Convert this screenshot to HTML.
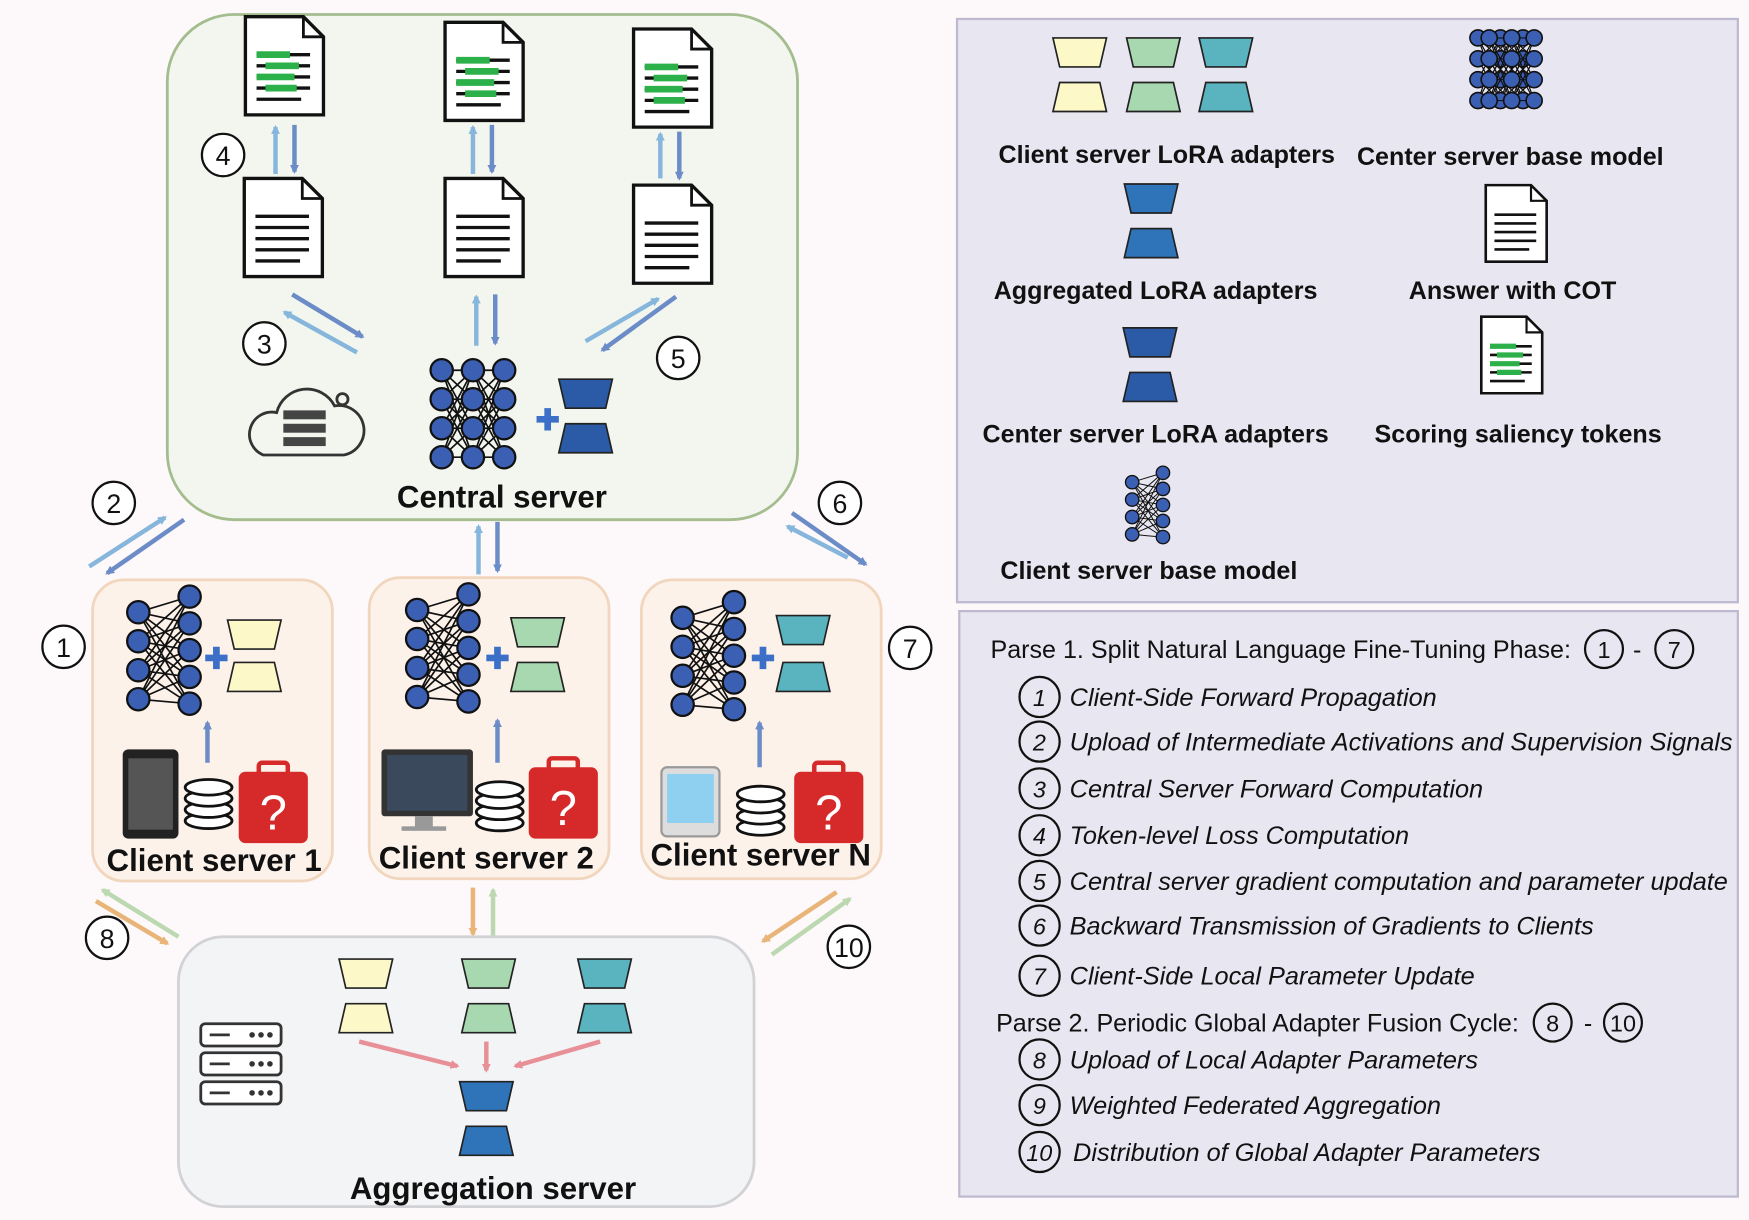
<!DOCTYPE html>
<html><head><meta charset="utf-8"><style>
html,body{margin:0;padding:0;background:#fff}
svg{display:block}
text{font-family:"Liberation Sans",sans-serif}
</style></head><body>
<svg width="1749" height="1220" viewBox="0 0 1568 1094" preserveAspectRatio="none" xmlns="http://www.w3.org/2000/svg">
<defs>
<marker id="ab" markerWidth="8" markerHeight="8" refX="6" refY="4" orient="auto" markerUnits="userSpaceOnUse"><path d="M0,0 L8,4 L0,8z" fill="#6c8cc8"/></marker>
<marker id="al" markerWidth="8" markerHeight="8" refX="6" refY="4" orient="auto" markerUnits="userSpaceOnUse"><path d="M0,0 L8,4 L0,8z" fill="#86b6dc"/></marker>
<marker id="ao" markerWidth="8" markerHeight="8" refX="6" refY="4" orient="auto" markerUnits="userSpaceOnUse"><path d="M0,0 L8,4 L0,8z" fill="#e8b478"/></marker>
<marker id="ag" markerWidth="8" markerHeight="8" refX="6" refY="4" orient="auto" markerUnits="userSpaceOnUse"><path d="M0,0 L8,4 L0,8z" fill="#bcd8b0"/></marker>
<marker id="ar" markerWidth="8" markerHeight="8" refX="6" refY="4" orient="auto" markerUnits="userSpaceOnUse"><path d="M0,0 L8,4 L0,8z" fill="#e89098"/></marker>
<g id="doc"><path d="M0,0 H52 L70,18 V88 H0 Z" fill="#fff" stroke="#111" stroke-width="3"/><path d="M52,0 V18 H70" fill="none" stroke="#111" stroke-width="2.5"/>
<path d="M10,34H58M10,44H58M10,54H58M10,64H58M10,74H50" stroke="#111" stroke-width="3"/></g>
<g id="gdoc"><use href="#doc"/><path d="M10,34H40M18,44H48M10,54H44M18,64H46" stroke="#2cb04a" stroke-width="6"/></g>
<g id="nn" stroke="#111" stroke-width="1.5">
<path d="M0,0L28,0M0,0L28,26M0,0L28,52M0,0L28,78M0,26L28,0M0,26L28,26M0,26L28,52M0,26L28,78M0,52L28,0M0,52L28,26M0,52L28,52M0,52L28,78M0,78L28,0M0,78L28,26M0,78L28,52M0,78L28,78"/>
<path d="M28,0L56,0M28,0L56,26M28,0L56,52M28,0L56,78M28,26L56,0M28,26L56,26M28,26L56,52M28,26L56,78M28,52L56,0M28,52L56,26M28,52L56,52M28,52L56,78M28,78L56,0M28,78L56,26M28,78L56,52M28,78L56,78"/>
<g fill="#3b5fb2" stroke-width="2"><circle cx="0" cy="0" r="10"/><circle cx="0" cy="26" r="10"/><circle cx="0" cy="52" r="10"/><circle cx="0" cy="78" r="10"/><circle cx="28" cy="0" r="10"/><circle cx="28" cy="26" r="10"/><circle cx="28" cy="52" r="10"/><circle cx="28" cy="78" r="10"/><circle cx="56" cy="0" r="10"/><circle cx="56" cy="26" r="10"/><circle cx="56" cy="52" r="10"/><circle cx="56" cy="78" r="10"/></g></g>
<g id="cnn" stroke="#111" stroke-width="1.5">
<path d="M0,14L46,0M0,14L46,24M0,14L46,48M0,14L46,72M0,14L46,96M0,40L46,0M0,40L46,24M0,40L46,48M0,40L46,72M0,40L46,96M0,66L46,0M0,66L46,24M0,66L46,48M0,66L46,72M0,66L46,96M0,92L46,0M0,92L46,24M0,92L46,48M0,92L46,72M0,92L46,96"/>
<g fill="#3b5fb2" stroke-width="2"><circle cx="0" cy="14" r="10"/><circle cx="0" cy="40" r="10"/><circle cx="0" cy="66" r="10"/><circle cx="0" cy="92" r="10"/><circle cx="46" cy="0" r="10"/><circle cx="46" cy="24" r="10"/><circle cx="46" cy="48" r="10"/><circle cx="46" cy="72" r="10"/><circle cx="46" cy="96" r="10"/></g></g>
<path id="adT" d="M-24,0H24L18,26H-18Z" stroke="#222" stroke-width="1.5"/>
<path id="adB" d="M-18,0H18L24,26H-24Z" stroke="#222" stroke-width="1.5"/>
<g id="plus"><path d="M-10,0H10M0,-10V10" stroke="#3b6fc8" stroke-width="6"/></g>
<g id="db" fill="#fff" stroke="#111" stroke-width="2.5"><ellipse cx="0" cy="30" rx="21" ry="7"/><ellipse cx="0" cy="20" rx="21" ry="7"/><ellipse cx="0" cy="10" rx="21" ry="7"/><ellipse cx="0" cy="0" rx="21" ry="7"/></g>
<g id="q"><rect x="0" y="8" width="62" height="64" rx="6" fill="#d62a2a"/><rect x="18" y="0" width="26" height="12" rx="3" fill="none" stroke="#d62a2a" stroke-width="4"/><text x="31" y="60" font-size="44" fill="#fff" text-anchor="middle">?</text></g>
</defs>
<rect width="1568" height="1094" fill="#fdf8f9"/>
<rect x="150" y="13" width="565" height="453" rx="60" fill="#f3f6ee" stroke="#a3bd8e" stroke-width="2.5"/>
<use href="#gdoc" x="220" y="15"/><use href="#gdoc" x="399" y="20"/><use href="#gdoc" x="568" y="26"/>
<use href="#doc" x="219" y="160"/><use href="#doc" x="399" y="160"/><use href="#doc" x="568" y="166"/>
<g stroke-width="4">
<line x1="247" y1="156" x2="247" y2="114" stroke="#86b6dc" marker-end="url(#al)"/><line x1="264" y1="112" x2="264" y2="154" stroke="#6c8cc8" marker-end="url(#ab)"/>
<line x1="424" y1="156" x2="424" y2="114" stroke="#86b6dc" marker-end="url(#al)"/><line x1="441" y1="112" x2="441" y2="154" stroke="#6c8cc8" marker-end="url(#ab)"/>
<line x1="592" y1="160" x2="592" y2="120" stroke="#86b6dc" marker-end="url(#al)"/><line x1="609" y1="118" x2="609" y2="160" stroke="#6c8cc8" marker-end="url(#ab)"/>
<line x1="320" y1="316" x2="255" y2="280" stroke="#86b6dc" marker-end="url(#al)"/><line x1="262" y1="264" x2="325" y2="302" stroke="#6c8cc8" marker-end="url(#ab)"/>
<line x1="427" y1="310" x2="427" y2="266" stroke="#86b6dc" marker-end="url(#al)"/><line x1="444" y1="264" x2="444" y2="308" stroke="#6c8cc8" marker-end="url(#ab)"/>
<line x1="525" y1="306" x2="590" y2="268" stroke="#86b6dc" marker-end="url(#al)"/><line x1="606" y1="266" x2="540" y2="314" stroke="#6c8cc8" marker-end="url(#ab)"/>
</g>
<use href="#nn" x="396" y="332"/>
<use href="#plus" x="491" y="376"/>
<use href="#adT" x="525" y="340" fill="#2b5aa6"/><use href="#adB" x="525" y="380" fill="#2b5aa6"/>
<g fill="none" stroke="#333" stroke-width="2.5"><path d="M236,408 a20,20 0 0 1 12,-38 a28,28 0 0 1 52,-6 a22,22 0 0 1 8,44 Z"/><circle cx="307" cy="358" r="5"/></g>
<g fill="#444"><rect x="254" y="368" width="38" height="8"/><rect x="254" y="380" width="38" height="8"/><rect x="254" y="392" width="38" height="8"/></g>
<text x="450" y="455" font-size="28" font-weight="bold" text-anchor="middle" fill="#111">Central server</text>
<g fill="#fff" stroke="#111" stroke-width="2"><circle cx="200" cy="139" r="19"/><circle cx="237" cy="308" r="19"/><circle cx="608" cy="321" r="19"/><circle cx="102" cy="451" r="19"/><circle cx="753" cy="451" r="19"/><circle cx="57" cy="580" r="19"/><circle cx="816" cy="581" r="19"/><circle cx="96" cy="841" r="19"/><circle cx="337" cy="1004" r="19"/><circle cx="761" cy="849" r="19"/></g>
<g font-size="24" text-anchor="middle" fill="#111"><text x="200" y="148">4</text><text x="237" y="317">3</text><text x="608" y="330">5</text><text x="102" y="460">2</text><text x="753" y="460">6</text><text x="57" y="589">1</text><text x="816" y="590">7</text><text x="96" y="850">8</text><text x="337" y="1013">9</text><text x="761" y="858">10</text></g>
<g stroke-width="4">
<line x1="80" y1="508" x2="148" y2="464" stroke="#86b6dc" marker-end="url(#al)"/><line x1="165" y1="466" x2="96" y2="514" stroke="#6c8cc8" marker-end="url(#ab)"/>
<line x1="429" y1="515" x2="429" y2="472" stroke="#86b6dc" marker-end="url(#al)"/><line x1="446" y1="468" x2="446" y2="512" stroke="#6c8cc8" marker-end="url(#ab)"/>
<line x1="760" y1="500" x2="706" y2="472" stroke="#86b6dc" marker-end="url(#al)"/><line x1="710" y1="460" x2="776" y2="506" stroke="#6c8cc8" marker-end="url(#ab)"/>
<line x1="160" y1="840" x2="92" y2="798" stroke="#bcd8b0" marker-end="url(#ag)"/><line x1="86" y1="808" x2="150" y2="846" stroke="#e8b478" marker-end="url(#ao)"/>
<line x1="424" y1="796" x2="424" y2="838" stroke="#e8b478" marker-end="url(#ao)"/><line x1="442" y1="840" x2="442" y2="798" stroke="#bcd8b0" marker-end="url(#ag)"/>
<line x1="750" y1="800" x2="684" y2="844" stroke="#e8b478" marker-end="url(#ao)"/><line x1="692" y1="856" x2="762" y2="806" stroke="#bcd8b0" marker-end="url(#ag)"/>
</g>
<g fill="#fdf2ea" stroke="#f1d6bd" stroke-width="2.5"><rect x="83" y="520" width="215" height="270" rx="28"/><rect x="331" y="518" width="215" height="270" rx="28"/><rect x="575" y="520" width="215" height="268" rx="28"/></g>
<use href="#cnn" x="124" y="535"/><use href="#plus" x="194" y="590"/><use href="#adT" x="228" y="556" fill="#fdf8c8"/><use href="#adB" x="228" y="594" fill="#fdf8c8"/>
<use href="#cnn" x="374" y="533"/><use href="#plus" x="446" y="590"/><use href="#adT" x="482" y="554" fill="#a8d8b0"/><use href="#adB" x="482" y="594" fill="#a8d8b0"/>
<use href="#cnn" x="612" y="540"/><use href="#plus" x="684" y="590"/><use href="#adT" x="720" y="552" fill="#5ab4c0"/><use href="#adB" x="720" y="594" fill="#5ab4c0"/>
<g stroke="#6c8cc8" stroke-width="4"><line x1="186" y1="684" x2="186" y2="648" marker-end="url(#ab)"/><line x1="446" y1="684" x2="446" y2="646" marker-end="url(#ab)"/><line x1="681" y1="688" x2="681" y2="648" marker-end="url(#ab)"/></g>
<rect x="110" y="672" width="50" height="80" rx="5" fill="#222"/><rect x="115" y="680" width="40" height="64" fill="#555"/>
<use href="#db" x="187" y="706"/><use href="#q" x="214" y="684"/>
<rect x="342" y="672" width="82" height="60" rx="3" fill="#333"/><rect x="347" y="677" width="72" height="50" fill="#3a4a5c"/><rect x="372" y="732" width="16" height="10" fill="#999"/><rect x="360" y="741" width="40" height="4" fill="#999"/>
<use href="#db" x="448" y="708"/><use href="#q" x="474" y="680"/>
<rect x="593" y="688" width="52" height="62" rx="5" fill="#ddd" stroke="#999" stroke-width="2"/><rect x="598" y="694" width="42" height="44" fill="#8fd0f0"/>
<use href="#db" x="682" y="712"/><use href="#q" x="712" y="684"/>
<g font-size="28" font-weight="bold" fill="#111" text-anchor="middle"><text x="192" y="781">Client server 1</text><text x="436" y="779">Client server 2</text><text x="682" y="776">Client server N</text></g>
<rect x="160" y="840" width="516" height="242" rx="40" fill="#f3f4f6" stroke="#d2d2d6" stroke-width="2.5"/>
<use href="#adT" x="328" y="860" fill="#fdf8c8"/><use href="#adB" x="328" y="900" fill="#fdf8c8"/>
<use href="#adT" x="438" y="860" fill="#a8d8b0"/><use href="#adB" x="438" y="900" fill="#a8d8b0"/>
<use href="#adT" x="542" y="860" fill="#5ab4c0"/><use href="#adB" x="542" y="900" fill="#5ab4c0"/>
<g stroke="#e89098" stroke-width="4"><line x1="322" y1="934" x2="410" y2="956" marker-end="url(#ar)"/><line x1="436" y1="934" x2="436" y2="960" marker-end="url(#ar)"/><line x1="538" y1="934" x2="462" y2="956" marker-end="url(#ar)"/></g>
<use href="#adT" x="436" y="970" fill="#2f74b8"/><use href="#adB" x="436" y="1010" fill="#2f74b8"/>
<g fill="#fff" stroke="#333" stroke-width="2.5"><rect x="180" y="918" width="72" height="20" rx="4"/><rect x="180" y="944" width="72" height="20" rx="4"/><rect x="180" y="970" width="72" height="20" rx="4"/></g>
<g stroke="#333" stroke-width="2.5"><path d="M188,928H206M188,954H206M188,980H206"/></g>
<g fill="#333"><circle cx="226" cy="928" r="2.5"/><circle cx="234" cy="928" r="2.5"/><circle cx="242" cy="928" r="2.5"/><circle cx="226" cy="954" r="2.5"/><circle cx="234" cy="954" r="2.5"/><circle cx="242" cy="954" r="2.5"/><circle cx="226" cy="980" r="2.5"/><circle cx="234" cy="980" r="2.5"/><circle cx="242" cy="980" r="2.5"/></g>
<text x="442" y="1075" font-size="28" font-weight="bold" text-anchor="middle" fill="#111">Aggregation server</text>
<rect x="858" y="17" width="700" height="523" fill="#e8e6f1" stroke="#bdb9d0" stroke-width="2"/>
<use href="#adT" x="968" y="34" fill="#fdf8c8"/><use href="#adB" x="968" y="74" fill="#fdf8c8"/>
<use href="#adT" x="1034" y="34" fill="#a8d8b0"/><use href="#adB" x="1034" y="74" fill="#a8d8b0"/>
<use href="#adT" x="1099" y="34" fill="#5ab4c0"/><use href="#adB" x="1099" y="74" fill="#5ab4c0"/>
<g transform="translate(1325,34) scale(0.72)"><use href="#nn"/><use href="#nn" x="14"/></g>
<use href="#adT" x="1032" y="165" fill="#2f74b8"/><use href="#adB" x="1032" y="205" fill="#2f74b8"/>
<g transform="translate(1332,166) scale(0.78)"><use href="#doc"/></g>
<use href="#adT" x="1031" y="294" fill="#2b5aa6"/><use href="#adB" x="1031" y="334" fill="#2b5aa6"/>
<g transform="translate(1328,284) scale(0.78)"><use href="#gdoc"/></g>
<g transform="translate(1015,424) scale(0.6)"><use href="#cnn"/></g>
<g font-size="22.5" font-weight="bold" fill="#111" text-anchor="middle">
<text x="1046" y="146">Client server LoRA adapters</text><text x="1354" y="148">Center server base model</text>
<text x="1036" y="268">Aggregated  LoRA adapters</text><text x="1356" y="268">Answer with COT</text>
<text x="1036" y="397">Center server LoRA adapters</text><text x="1361" y="397">Scoring saliency tokens</text>
<text x="1030" y="519">Client server base model</text></g>
<rect x="860" y="548" width="698" height="525" fill="#e8e6f1" stroke="#bdb9d0" stroke-width="2"/>
<g font-size="22.5" fill="#111">
<text x="888" y="590">Parse 1. Split Natural Language Fine-Tuning Phase:</text>
<text x="1464" y="590">-</text>
<text x="893" y="925">Parse 2. Periodic Global Adapter Fusion Cycle:</text>
<text x="1420" y="925">-</text>
</g>
<g fill="none" stroke="#111" stroke-width="2"><circle cx="1438" cy="582" r="17"/><circle cx="1501" cy="582" r="17"/><circle cx="1392" cy="917" r="17"/><circle cx="1455" cy="917" r="17"/>
<circle cx="932" cy="625" r="18"/><circle cx="932" cy="665" r="18"/><circle cx="932" cy="707" r="18"/><circle cx="932" cy="749" r="18"/><circle cx="932" cy="790" r="18"/><circle cx="932" cy="830" r="18"/><circle cx="932" cy="875" r="18"/><circle cx="932" cy="950" r="18"/><circle cx="932" cy="991" r="18"/><circle cx="932" cy="1033" r="18"/></g>
<g font-size="21" fill="#111" text-anchor="middle"><text x="1438" y="590">1</text><text x="1501" y="590">7</text><text x="1392" y="925">8</text><text x="1455" y="925">10</text></g>
<g font-size="21" font-style="italic" fill="#111">
<text x="926" y="633">1</text><text x="926" y="673">2</text><text x="926" y="715">3</text><text x="926" y="757">4</text><text x="926" y="798">5</text><text x="926" y="838">6</text><text x="926" y="883">7</text><text x="926" y="958">8</text><text x="926" y="999">9</text><text x="920" y="1041">10</text></g>
<g font-size="22.7" font-style="italic" fill="#111">
<text x="959" y="633">Client-Side Forward Propagation</text>
<text x="959" y="673">Upload of Intermediate Activations and Supervision Signals</text>
<text x="959" y="715">Central Server Forward Computation</text>
<text x="959" y="757">Token-level Loss Computation</text>
<text x="959" y="798">Central server gradient computation and parameter update</text>
<text x="959" y="838">Backward Transmission of Gradients to Clients</text>
<text x="959" y="883">Client-Side Local Parameter Update</text>
<text x="959" y="958">Upload of Local Adapter Parameters</text>
<text x="959" y="999">Weighted Federated Aggregation</text>
<text x="962" y="1041">Distribution of Global Adapter Parameters</text>
</g>
</svg>
</body></html>
